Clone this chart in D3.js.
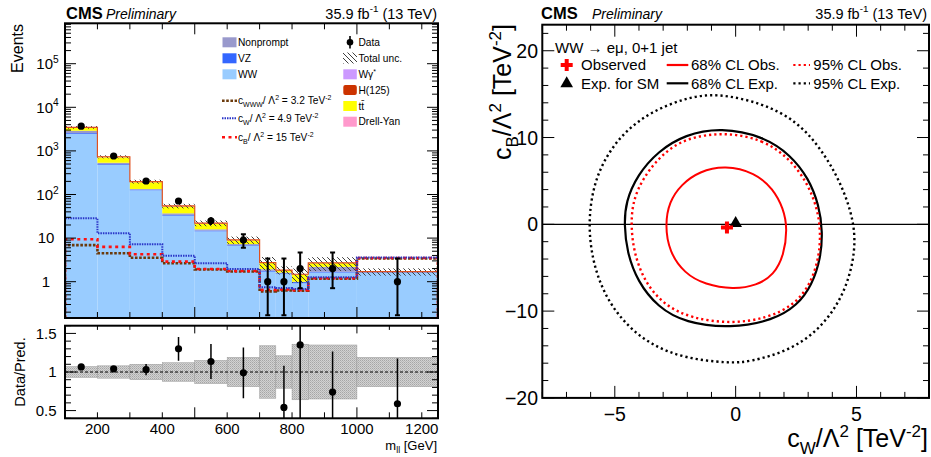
<!DOCTYPE html>
<html><head><meta charset="utf-8">
<script src="https://cdn.jsdelivr.net/npm/d3@7"></script>
<style>body{margin:0;background:#fff} svg{display:block}</style>
</head><body>
<svg id="c" width="931" height="457"></svg>
<script>
// ================= DATA =================
// Left plot: m_ll distribution (bin edges in GeV)
const binEdges = [100,200,300,400,500,600,700,750,800,850,1000,1250];
const dataCounts = [3700,765,204,71,25,9,1,1,2,2,1];
const dataErrDown = [61,28,14,8.4,5,3.0,0.83,0.83,1.29,1.29,0.83];
const dataErrUp   = [61,28,14,8.4,5,3.3,2.4,2.4,2.7,2.7,2.4];
const wwVals   = [2450,475,125,32.7,14.3,6.6,1.7,1.5,0.92,1.62,1.6];
const vzVals   = [110,20,3,1.3,0.6,0.25,0.08,0.06,0.06,0.07,0.05];
const npVals   = [340,40,6,3.0,1.0,0.45,0.15,0.06,0.02,0.5,0.02];
const ttVals   = [480,180,58,16,5.5,1.6,0.75,0.2,0.45,0.48,0.02];
const wgVals   = [10,3,1,0.3,0.1,0.05,0.02,0.01,0.01,0.01,0.003];
const dyVals   = [40,7,2,0.5,0.2,0.05,0.02,0.01,0.01,0.01,0.003];
const hVals    = [40,10,3,0.8,0.3,0.1,0.03,0.01,0.01,0.01,0.004];
const relUnc   = [0.07,0.08,0.10,0.12,0.15,0.19,0.34,0.21,0.36,0.35,0.19];
const cwwwVals = [6.9,4.5,3.55,2.64,1.9,1.72,0.6,0.63,0.62,1.17,3.4];
const cwVals   = [28.4,12.9,7.2,3.95,2.64,1.95,0.75,0.72,0.68,1.27,3.6];
const cbVals   = [9.4,6.3,4.25,2.88,1.95,1.76,0.65,0.66,0.64,1.2,3.5];
const xTickLabels = [200,400,600,800,1000,1200];
const yLogTicks = [1,10,100,1000,10000,100000];
const ratioTicks = [0.5,1,1.5];

// Right plot: contours in (cW, cB) plane
const obs68 = [[-0.44,6.8],[0.8,5.95],[1.55,4.1],[1.98,1.8],[2.14,-0.46],[2.0,-3.54],[1.58,-5.84],[0.87,-7.05],[-0.1,-7.5],[-1.27,-6.95],[-2.12,-5.65],[-2.75,-3.16],[-2.92,-0.08],[-2.75,2.6],[-2.25,4.6],[-1.5,6.1]];
const obs95 = [[-0.44,10.65],[1.14,9.75],[2.2,7.65],[2.95,4.9],[3.38,1.84],[3.52,-0.85],[3.45,-3.9],[3.08,-7.0],[2.4,-9.35],[1.28,-10.85],[-0.2,-11.45],[-1.81,-10.85],[-2.95,-9.35],[-3.78,-6.6],[-4.22,-3.16],[-4.33,-0.08],[-4.26,2.6],[-3.85,5.3],[-3.08,8.0],[-2.09,9.95]];
const exp68 = [[-0.6,11.15],[1.14,10.15],[2.27,8.0],[3.02,5.3],[3.45,2.2],[3.6,-0.85],[3.52,-3.9],[3.16,-7.0],[2.55,-9.35],[1.55,-11.05],[-0.2,-12.0],[-2.09,-11.35],[-3.22,-9.55],[-4.06,-6.6],[-4.5,-3.16],[-4.61,-0.08],[-4.55,2.6],[-4.06,5.7],[-3.22,8.4],[-2.09,10.35]];
const exp95 = [[-0.8,15.15],[1.14,13.95],[2.55,11.85],[3.52,8.75],[4.35,4.9],[4.97,-0.08],[4.9,-4.3],[4.41,-8.5],[3.5,-12.05],[2.24,-14.55],[0.59,-15.85],[-0.3,-16.0],[-2.09,-15.45],[-3.48,-13.95],[-4.6,-11.45],[-5.43,-8.15],[-5.92,-4.3],[-6.1,-0.08],[-5.92,4.15],[-5.43,7.6],[-4.6,10.7],[-3.48,13.0],[-2.09,14.55]];
const obsPoint = [-0.36,-0.38];
const smPoint = [0,0];
const cTicksX = [-5,0,5];
const cTicksY = [-20,-10,0,10,20];

// ================= SETUP =================
const svg = d3.select('#c').attr('font-family','"Liberation Sans", Arial, Helvetica, sans-serif');
const defs = svg.append('defs');
const hatch = defs.append('pattern').attr('id','hatch').attr('patternUnits','userSpaceOnUse').attr('width',5).attr('height',5);
hatch.append('path').attr('d','M0,0 L5,5 M-1,4 L1,6 M4,-1 L6,1').attr('stroke','#404040').attr('stroke-width',1);
const dots = defs.append('pattern').attr('id','dots').attr('patternUnits','userSpaceOnUse').attr('width',2).attr('height',2);
dots.append('rect').attr('width',2).attr('height',2).attr('fill','#d2d2d2');
dots.append('rect').attr('width',1).attr('height',1).attr('fill','#a6a6a6');
dots.append('rect').attr('x',1).attr('y',1).attr('width',1).attr('height',1).attr('fill','#b8b8b8');

function rich(sel, parts, size){
  let cur = 0;
  parts.forEach(([t,m])=>{
    const target = m==='sup' ? -0.42*size : m==='sub' ? 0.28*size : 0;
    sel.append('tspan').attr('dy', target-cur).attr('font-size', m ? size*0.68 : size).text(t);
    cur = target;
  });
}
function txt(x,y,parts,size,anchor,extra){
  const t = svg.append('text').attr('x',x).attr('y',y).attr('text-anchor',anchor||'start').attr('font-size',size);
  if (typeof parts === 'string') t.text(parts); else rich(t,parts,size);
  if (extra) extra(t);
  return t;
}

// ================= LEFT TOP PANEL =================
const xL = d3.scaleLinear().domain([100,1250]).range([65,438]);
const yL = d3.scaleLog().domain([0.147,8.45e5]).range([318,23.3]).clamp(true);
const yR = d3.scaleLinear().domain([0.4,1.6]).range([418.3,325.7]);
defs.append('clipPath').attr('id','clipTop').append('rect').attr('x',65).attr('y',23.3).attr('width',373).attr('height',294.7);
defs.append('clipPath').attr('id','clipRat').append('rect').attr('x',65).attr('y',325.7).attr('width',373).attr('height',92.6);

const gTop = svg.append('g').attr('clip-path','url(#clipTop)');
const layers = [
  {vals:wwVals,color:'#99ccff'},
  {vals:vzVals,color:'#3366ff'},
  {vals:npVals,color:'#9999cc'},
  {vals:ttVals,color:'#ffff00'},
  {vals:wgVals,color:'#cc99ff'},
  {vals:dyVals,color:'#ff99cc'},
  {vals:hVals,color:'#cc3300'}
];
const nB = dataCounts.length;
const totals = [];
for (let i=0;i<nB;i++){
  let lo = 0;
  layers.forEach(L=>{
    const hi = lo + L.vals[i];
    const y0 = lo>0 ? yL(lo) : 318, y1 = yL(hi);
    gTop.append('rect').attr('x',xL(binEdges[i])).attr('width',xL(binEdges[i+1])-xL(binEdges[i]))
      .attr('y',y1).attr('height',Math.max(0,y0-y1)).attr('fill',L.color);
    lo = hi;
  });
  totals.push(lo);
}
// uncertainty hatch
for (let i=0;i<nB;i++){
  const a = yL(totals[i]*(1+relUnc[i])), b = yL(totals[i]*(1-relUnc[i]));
  gTop.append('rect').attr('x',xL(binEdges[i])).attr('width',xL(binEdges[i+1])-xL(binEdges[i]))
    .attr('y',a).attr('height',b-a).attr('fill','url(#hatch)');
}
function stepPath(vals, yS, closeBottom){
  let d = `M${xL(binEdges[0])},${closeBottom}`;
  vals.forEach((v,i)=>{ d += ` V${yS(v)} H${xL(binEdges[i+1])}`; });
  d += ` V${closeBottom}`;
  return d;
}
gTop.append('path').attr('d',stepPath(totals,yL,318)).attr('fill','none').attr('stroke','#e0501e').attr('stroke-width',1.2);
// EFT lines
gTop.append('path').attr('d',stepPath(cwwwVals,yL,318)).attr('fill','none').attr('stroke','#6b3a0c').attr('stroke-width',2.6).attr('stroke-dasharray','2.6,1.6');
gTop.append('path').attr('d',stepPath(cbVals,yL,318)).attr('fill','none').attr('stroke','#ff1010').attr('stroke-width',2.6).attr('stroke-dasharray','3,3.5');
gTop.append('path').attr('d',stepPath(cwVals,yL,318)).attr('fill','none').attr('stroke','#2a35c8').attr('stroke-width',2).attr('stroke-dasharray','1.5,1');

// data
const xc = i => xL((binEdges[i]+binEdges[i+1])/2);
for (let i=0;i<nB;i++){
  const x = xc(i);
  const yt = yL(dataCounts[i]+dataErrUp[i]), yb = yL(Math.max(dataCounts[i]-dataErrDown[i],1e-3));
  gTop.append('line').attr('x1',x).attr('x2',x).attr('y1',yt).attr('y2',yb).attr('stroke','#000').attr('stroke-width',2);
  if (yb-yt > 10){
    gTop.append('line').attr('x1',x-2.5).attr('x2',x+2.5).attr('y1',yt).attr('y2',yt).attr('stroke','#000').attr('stroke-width',2);
    gTop.append('line').attr('x1',x-2.5).attr('x2',x+2.5).attr('y1',yb).attr('y2',yb).attr('stroke','#000').attr('stroke-width',2);
  }
  gTop.append('circle').attr('cx',x).attr('cy',yL(dataCounts[i])).attr('r',3.6).attr('fill','#000');
}

// ticks helper
function tick(x1,y1,x2,y2,w){ svg.append('line').attr('x1',x1).attr('y1',y1).attr('x2',x2).attr('y2',y2).attr('stroke','#000').attr('stroke-width',w||1); }
// top panel y ticks
for (let e=-1;e<=6;e++){
  for (let k=1;k<10;k++){
    const v = k*Math.pow(10,e);
    if (v<0.147 || v>8.45e5) continue;
    const y = yL(v), len = k===1?11:6;
    tick(65,y,65+len,y); tick(438,y,438-len,y);
  }
}
// x ticks (top panel and ratio)
for (let v=100; v<=1250; v+=100){
  const x = xL(v), len = (v%500===0)?11:6;
  tick(x,318,x,318-len); tick(x,23.3,x,23.3+len);
  tick(x,418.3,x,418.3-len); tick(x,325.7,x,325.7+len*0.7);
}
svg.append('rect').attr('x',65).attr('y',23.3).attr('width',373).attr('height',294.7).attr('fill','none').attr('stroke','#000').attr('stroke-width',2);
// y labels
yLogTicks.forEach(v=>{
  const e = Math.round(Math.log10(v)), y = yL(v)+5.3;
  if (e===0) txt(46,y,'1',15,'middle');
  else if (e===1) txt(46,y,'10',15,'middle');
  else txt(47.5,y,[['10',''],[String(e),'sup']],15,'middle');
});
txt(0,0,'Events',16,'end',t=>t.attr('transform','translate(23,24) rotate(-90)'));

// legend left
const legC1 = [{label:'Nonprompt',color:'#9999cc',y:42.3},{label:'VZ',color:'#3366ff',y:58.3},{label:'WW',color:'#99ccff',y:74.3}];
legC1.forEach(L=>{
  svg.append('rect').attr('x',222.5).attr('y',L.y-5).attr('width',14).attr('height',10).attr('fill',L.color);
  txt(238,L.y+3.6,L.label,10.2);
});
const legLines = [
  {y:100.7,color:'#6b3a0c',w:2.6,dash:'2.6,1.6',parts:[['c',''],['WWW','sub'],['/ Λ',''],['2','sup'],[' = 3.2 TeV',''],['-2','sup']]},
  {y:118.3,color:'#2a35c8',w:2,dash:'1.5,1',parts:[['c',''],['W','sub'],['/ Λ',''],['2','sup'],[' = 4.9 TeV',''],['-2','sup']]},
  {y:137.3,color:'#ff1010',w:2.6,dash:'3,3.5',parts:[['c',''],['B','sub'],['/ Λ',''],['2','sup'],[' = 15 TeV',''],['-2','sup']]}
];
legLines.forEach(L=>{
  svg.append('line').attr('x1',222).attr('x2',237).attr('y1',L.y).attr('y2',L.y).attr('stroke',L.color).attr('stroke-width',L.w).attr('stroke-dasharray',L.dash);
  txt(238,L.y+3.6,L.parts,10.2);
});
// col2
svg.append('line').attr('x1',350).attr('x2',350).attr('y1',36).attr('y2',48.5).attr('stroke','#000').attr('stroke-width',1.6);
svg.append('circle').attr('cx',350).attr('cy',42.3).attr('r',3.3).attr('fill','#000');
txt(358.5,42.3+3.6,'Data',10.2);
svg.append('rect').attr('x',343).attr('y',52.5).attr('width',14).attr('height',11).attr('fill','url(#hatch)');
txt(358.5,58.3+3.6,'Total unc.',10.2);
const legC2 = [{parts:[['Wγ',''],['*','sup']],color:'#cc99ff',y:74.3},{parts:[['H(125)','']],color:'#cc3300',y:90},{parts:[['tt̄','']],color:'#ffff00',y:106},{parts:[['Drell-Yan','']],color:'#ff99cc',y:121.7}];
legC2.forEach(L=>{
  svg.append('rect').attr('x',343.3).attr('y',L.y-5).attr('width',13.5).attr('height',10).attr('fill',L.color).attr('rx',L.color==='#cc3300'?2:0);
  txt(358.5,L.y+3.6,L.parts,10.2);
});

// header left
txt(66,18.5,'CMS',16.5,'start',t=>t.attr('font-weight','bold'));
txt(106,18.5,'Preliminary',14,'start',t=>t.attr('font-style','italic'));
txt(437,18.5,[['35.9 fb',''],['-1','sup'],[' (13 TeV)','']],14.5,'end');

// ================= RATIO PANEL =================
const gR = svg.append('g').attr('clip-path','url(#clipRat)');
for (let i=0;i<nB;i++){
  const a = yR(1+relUnc[i]), b = yR(1-relUnc[i]);
  gR.append('rect').attr('x',xL(binEdges[i])).attr('width',xL(binEdges[i+1])-xL(binEdges[i]))
    .attr('y',a).attr('height',b-a).attr('fill','url(#dots)').attr('stroke','#9a9a9a').attr('stroke-width',0.5);
}
gR.append('line').attr('x1',65).attr('x2',438).attr('y1',yR(1)).attr('y2',yR(1)).attr('stroke','#000').attr('stroke-width',1.2).attr('stroke-dasharray','3,2');
for (let i=0;i<nB;i++){
  const r = dataCounts[i]/totals[i], e = Math.sqrt(dataCounts[i])/totals[i];
  if (r < 0.4 || r > 1.6) continue;
  const x = xc(i);
  gR.append('line').attr('x1',x).attr('x2',x).attr('y1',yR(r+e)).attr('y2',yR(r-e)).attr('stroke','#000').attr('stroke-width',1.5);
  gR.append('circle').attr('cx',x).attr('cy',yR(r)).attr('r',3.6).attr('fill','#000');
}
for (let v=0.4; v<=1.6001; v+=0.1){
  const vv = Math.round(v*10)/10;
  const y = yR(vv), len = (Math.abs(vv*2-Math.round(vv*2))<1e-6)?11:6;
  tick(65,y,65+len,y); tick(438,y,438-len,y);
}
svg.append('rect').attr('x',65).attr('y',325.7).attr('width',373).attr('height',92.6).attr('fill','none').attr('stroke','#000').attr('stroke-width',2);
ratioTicks.forEach(v=> txt(56.5,yR(v)+5.3,String(v),15,'end'));
xTickLabels.forEach(v=> txt(xL(v),434,String(v),15,'middle'));
txt(0,0,'Data/Pred.',14.5,'middle',t=>t.attr('transform',`translate(25,${yR(1)}) rotate(-90)`));
txt(437,449.5,[['m',''],['ll','sub'],[' [GeV]','']],13,'end');

// ================= RIGHT PLOT =================
const xC = d3.scaleLinear().domain([-8,8]).range([542.3,929]);
const yC = d3.scaleLinear().domain([-20,23]).range([397.9,24.7]);
defs.append('clipPath').attr('id','clipC').append('rect').attr('x',542.3).attr('y',24.7).attr('width',386.7).attr('height',373.2);
const gC = svg.append('g').attr('clip-path','url(#clipC)');
gC.append('line').attr('x1',xC(-8)).attr('x2',xC(8)).attr('y1',yC(0)).attr('y2',yC(0)).attr('stroke','#000').attr('stroke-width',1.2);
const cl = d3.line().x(d=>xC(d[0])).y(d=>yC(d[1])).curve(d3.curveBasisClosed);
gC.append('path').attr('d',cl(exp95)).attr('fill','none').attr('stroke','#000').attr('stroke-width',2.4).attr('stroke-dasharray','2.2,3');
gC.append('path').attr('d',cl(exp68)).attr('fill','none').attr('stroke','#000').attr('stroke-width',2.2);
gC.append('path').attr('d',cl(obs95)).attr('fill','none').attr('stroke','#ff0000').attr('stroke-width',2.4).attr('stroke-dasharray','2.2,3');
gC.append('path').attr('d',cl(obs68)).attr('fill','none').attr('stroke','#ff0000').attr('stroke-width',2);
gC.append('path').attr('d',d3.symbol(d3.symbolTriangle,70)()).attr('transform',`translate(${xC(smPoint[0])},${yC(smPoint[1])-1})`).attr('fill','#000');
gC.append('path').attr('d',d3.symbol(d3.symbolCross,80)()).attr('transform',`translate(${xC(obsPoint[0])},${yC(obsPoint[1])})`).attr('fill','#ff0000');

for (let v=-8; v<=8; v++){
  const x = xC(v), len = (v%5===0)?12:6;
  tick(x,397.9,x,397.9-len); tick(x,24.7,x,24.7+len);
}
for (let v=-20; v<=22; v+=2){
  const y = yC(v), len = (v%10===0)?12:6;
  tick(542.3,y,542.3+len,y); tick(929,y,929-len,y);
}
svg.append('rect').attr('x',542.3).attr('y',24.7).attr('width',386.7).attr('height',373.2).attr('fill','none').attr('stroke','#000').attr('stroke-width',2);
cTicksY.forEach(v=> txt(538,yC(v)+7,v<0?'−'+Math.abs(v):String(v),19.5,'end'));
cTicksX.forEach(v=> txt(xC(v),421,v<0?'−'+Math.abs(v):String(v),19.5,'middle'));
txt(928,447,[['c',''],['W','sub'],['/Λ',''],['2','sup'],[' [TeV',''],['-2','sup'],[']','']],25,'end');
txt(0,0,[['c',''],['B','sub'],['/Λ',''],['2','sup'],[' [TeV',''],['-2','sup'],[']','']],25,'end',t=>t.attr('transform','translate(511,24) rotate(-90)'));

// legend right
txt(555,53,'WW → eμ, 0+1 jet',15);
svg.append('path').attr('d',d3.symbol(d3.symbolCross,80)()).attr('transform','translate(566.7,65)').attr('fill','#ff0000');
txt(581,70.3,'Observed',15);
svg.append('path').attr('d',d3.symbol(d3.symbolTriangle,70)()).attr('transform','translate(566.7,83.5)').attr('fill','#000');
txt(581,88.6,'Exp. for SM',15);
const legR = [
  {x1:666.7,x2:688.3,y:65,color:'#ff0000',dash:null,label:'68% CL Obs.',tx:691},
  {x1:793.3,x2:810,y:65,color:'#ff0000',dash:'2.2,3',label:'95% CL Obs.',tx:813.3},
  {x1:666.7,x2:688.3,y:83.3,color:'#000',dash:null,label:'68% CL Exp.',tx:691},
  {x1:793.3,x2:810,y:83.3,color:'#000',dash:'2.2,3',label:'95% CL Exp.',tx:813.3}
];
legR.forEach(L=>{
  const l = svg.append('line').attr('x1',L.x1).attr('x2',L.x2).attr('y1',L.y).attr('y2',L.y).attr('stroke',L.color).attr('stroke-width',2.2);
  if (L.dash) l.attr('stroke-dasharray',L.dash);
  txt(L.tx,L.y+5.3,L.label,15);
});
// header right
txt(541,18.5,'CMS',16.5,'start',t=>t.attr('font-weight','bold'));
txt(592,18.5,'Preliminary',14,'start',t=>t.attr('font-style','italic'));
txt(927,18.5,[['35.9 fb',''],['-1','sup'],[' (13 TeV)','']],14.5,'end');
</script>
</body></html>
